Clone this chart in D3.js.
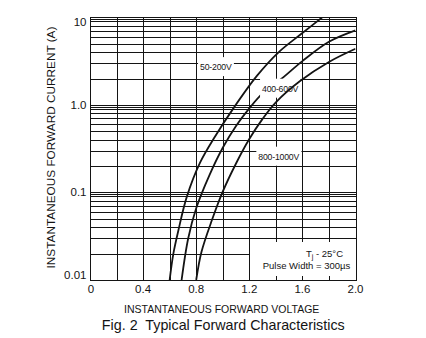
<!DOCTYPE html>
<html>
<head>
<meta charset="utf-8">
<script src="https://cdn.jsdelivr.net/npm/d3@7"></script>
<style>
  html, body { margin: 0; padding: 0; background: #fff; }
  svg { display: block; font-family: "Liberation Sans", Arial, sans-serif; }
</style>
</head>
<body>
<svg id="chart" width="426" height="338"></svg>
<script>
// Forward voltage (V) / forward current (A) for each voltage class
const seriesNames = ["50-200V", "400-600V", "800-1000V"];
const vf50_200   = [0.60, 0.628, 0.666, 0.729, 0.829, 0.942, 1.08, 1.257, 1.42, 1.60, 1.75];
const if50_200   = [0.010, 0.020, 0.037, 0.089, 0.219, 0.436, 0.912, 2.14, 3.98, 6.61, 10];
const vf400_600  = [0.69, 0.74, 0.80, 0.90, 1.00, 1.10, 1.20, 1.30, 1.445, 1.60, 1.80, 2.00];
const if400_600  = [0.010, 0.030, 0.066, 0.158, 0.324, 0.575, 0.912, 1.35, 2.0, 3.16, 5.25, 7.08];
const vf800_1000 = [0.80, 0.84, 0.92, 1.00, 1.10, 1.20, 1.30, 1.40, 1.58, 1.80, 2.00];
const if800_1000 = [0.010, 0.021, 0.049, 0.102, 0.214, 0.407, 0.692, 1.07, 1.86, 3.09, 4.37];

// Label anchor points (V, A) for the curve names
const labelV = [0.829, 1.296, 1.268];
const labelI = [2.7, 1.53, 0.256];

// Axis ticks
const voltTicks  = [0, 0.4, 0.8, 1.2, 1.6, 2.0];
const voltLabels = ["0", "0.4", "0.8", "1.2", "1.6", "2.0"];
const voltGrid   = [0, 0.2, 0.4, 0.6, 0.8, 1.0, 1.2, 1.4, 1.6, 1.8, 2.0];
const currTicks  = [0.01, 0.1, 1, 10];
const currLabels = ["0.01", "0.1", "1.0", "10"];

const svg = d3.select("#chart");
const plot = { left: 90, right: 355.5, top: 17.3, bottom: 280 };

const x = d3.scaleLinear().domain([0, 2]).range([plot.left, plot.right]);
const y = d3.scaleLog().domain([0.01, 10]).range([plot.bottom, plot.top]);

const ink = "#141414";

// ---- grid ----
const grid = svg.append("g").attr("stroke", ink).attr("stroke-width", 1)
  .attr("shape-rendering", "crispEdges");

const minor = [];
[0.01, 0.1, 1].forEach(d => { for (let k = 2; k <= 9; k++) minor.push(d * k); });
// decade lines are drawn heavier: a companion line just below each one
const decadeCompanions = [0.1, 1, 10].map(d => d * 0.95);
const hLines = minor.concat(currTicks, decadeCompanions);

grid.selectAll("line.h").data(hLines).join("line")
  .attr("class", "h")
  .attr("x1", plot.left).attr("x2", plot.right)
  .attr("y1", d => Math.round(y(d)) + 0.5).attr("y2", d => Math.round(y(d)) + 0.5);

grid.selectAll("line.v").data(voltGrid).join("line")
  .attr("class", "v")
  .attr("y1", plot.top).attr("y2", plot.bottom)
  .attr("x1", d => Math.round(x(d)) + 0.5).attr("x2", d => Math.round(x(d)) + 0.5);

// ---- curves ----
svg.append("clipPath").attr("id", "plotClip").append("rect")
  .attr("x", plot.left).attr("y", plot.top)
  .attr("width", plot.right - plot.left).attr("height", plot.bottom - plot.top);

const series = [
  { name: seriesNames[0], v: vf50_200, i: if50_200 },
  { name: seriesNames[1], v: vf400_600, i: if400_600 },
  { name: seriesNames[2], v: vf800_1000, i: if800_1000 }
];

const line = d3.line()
  .x(p => x(p[0])).y(p => y(p[1]))
  .curve(d3.curveCatmullRom.alpha(0.5));

function drawCurve(s, parent) {
  parent.append("path")
    .attr("d", line(s.v.map((v, k) => [v, s.i[k]])))
    .attr("fill", "none").attr("stroke", ink)
    .attr("stroke-width", 1.8)
    .attr("stroke-linejoin", "round")
    .attr("clip-path", "url(#plotClip)");
}

const curvesUnder = svg.append("g");
drawCurve(series[0], curvesUnder);
drawCurve(series[1], curvesUnder);

// ---- curve labels on white patches ----
const labels = svg.append("g");
series.forEach((s, k) => {
  const g = labels.append("g");
  const t = g.append("text")
    .attr("x", x(labelV[k])).attr("y", y(labelI[k]))
    .attr("dominant-baseline", "central")
    .attr("font-size", 8.7).attr("fill", ink)
    .attr("letter-spacing", -0.2)
    .text(s.name);
  const b = t.node().getBBox();
  g.insert("rect", "text")
    .attr("x", b.x - 2).attr("y", b.y - 5)
    .attr("width", b.width + 4).attr("height", b.height + 9)
    .attr("fill", "#fff");
});

const curvesOver = svg.append("g");
drawCurve(series[2], curvesOver);

// ---- conditions box in the lower-right corner ----
const box = svg.append("g");
box.append("rect")
  .attr("x", Math.round(x(1.2)) + 1).attr("y", Math.round(y(0.03)) + 1)
  .attr("width", Math.round(x(2.0)) - Math.round(x(1.2)) - 1)
  .attr("height", Math.round(y(0.01)) - Math.round(y(0.03)) - 1)
  .attr("fill", "#fff");
// short stubs where the grid meets the box edges
[1.4, 1.6, 1.8].forEach(v => {
  const xx = Math.round(x(v)) + 0.5;
  box.append("line").attr("x1", xx).attr("x2", xx)
    .attr("y1", y(0.03)).attr("y2", y(0.03) + 4)
    .attr("stroke", ink).attr("shape-rendering", "crispEdges");
  box.append("line").attr("x1", xx).attr("x2", xx)
    .attr("y1", plot.bottom - 4).attr("y2", plot.bottom)
    .attr("stroke", ink).attr("shape-rendering", "crispEdges");
});
const tj = box.append("text")
  .attr("x", x(1.627)).attr("y", y(0.0203))
  .attr("dominant-baseline", "central")
  .attr("font-size", 9.5).attr("fill", ink);
tj.append("tspan").text("T");
tj.append("tspan").text("j").attr("font-size", 7).attr("dy", 2.5);
tj.append("tspan").text(" - 25°C").attr("dy", -2.5);
box.append("text")
  .attr("x", x(1.301)).attr("y", y(0.0147))
  .attr("dominant-baseline", "central")
  .attr("font-size", 9.5).attr("fill", ink)
  .text("Pulse Width = 300µs");

// ---- plot border ----
svg.append("rect")
  .attr("x", plot.left + 0.5).attr("y", Math.round(plot.top) + 0.5)
  .attr("width", Math.round(plot.right) - plot.left)
  .attr("height", plot.bottom - Math.round(plot.top))
  .attr("fill", "none").attr("stroke", ink).attr("stroke-width", 1)
  .attr("shape-rendering", "crispEdges");

// ---- tick labels ----
svg.append("g").selectAll("text").data(voltTicks).join("text")
  .attr("x", d => x(d) + (d === 0 ? 1 : 0))
  .attr("y", 288.5)
  .attr("text-anchor", "middle").attr("dominant-baseline", "central")
  .attr("font-size", 11.5).attr("fill", ink)
  .text((d, k) => voltLabels[k]);

svg.append("g").selectAll("text").data(currTicks).join("text")
  .attr("x", 86.5)
  .attr("y", d => Math.min(Math.max(y(d), plot.top + 4.5), plot.bottom - 5))
  .attr("text-anchor", "end").attr("dominant-baseline", "central")
  .attr("font-size", 11.5).attr("fill", ink)
  .text((d, k) => currLabels[k]);

// ---- axis titles ----
svg.append("text")
  .attr("transform", "translate(50.5,147.5) rotate(-90)")
  .attr("text-anchor", "middle").attr("dominant-baseline", "central")
  .attr("font-size", 11.8).attr("fill", ink)
  .text("INSTANTANEOUS FORWARD CURRENT (A)");

svg.append("text")
  .attr("x", 221.7).attr("y", 309)
  .attr("text-anchor", "middle").attr("dominant-baseline", "central")
  .attr("font-size", 10.5).attr("fill", ink)
  .text("INSTANTANEOUS FORWARD VOLTAGE");

svg.append("text")
  .attr("x", 223.3).attr("y", 325)
  .attr("text-anchor", "middle").attr("dominant-baseline", "central")
  .attr("font-size", 14.3).attr("fill", ink)
  .style("white-space", "pre")
  .text("Fig. 2  Typical Forward Characteristics");
</script>
</body>
</html>
